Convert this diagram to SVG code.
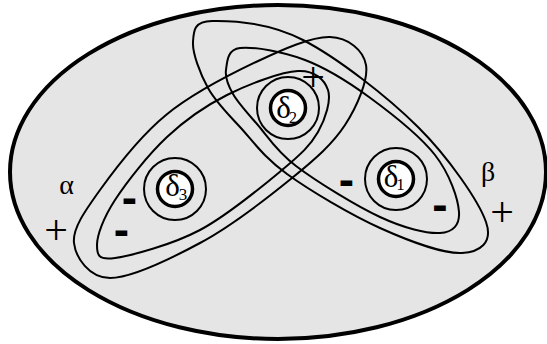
<svg xmlns="http://www.w3.org/2000/svg" width="547" height="344" viewBox="0 0 547 344">
<style>
.loop{fill:none;stroke:#000;stroke-width:2}
.ring{fill:none;stroke:#000;stroke-width:2}
.core{fill:#fff;stroke:#000;stroke-width:3.5}
.serif{font-family:"Liberation Serif","Times New Roman",serif;fill:#000}
.minus{font-family:"Liberation Sans",Arial,sans-serif;font-weight:bold;font-size:46px;text-anchor:middle;fill:#000}
.plus{font-family:"Liberation Serif","Times New Roman",serif;font-size:42px;text-anchor:middle;fill:#000}
</style>
<rect width="547" height="344" fill="#fff"/>
<g id="universe">
<ellipse cx="278" cy="172" rx="268" ry="167" fill="#e5e5e5" stroke="#000" stroke-width="4"/>
</g>
<g id="connectors">
<path id="alpha-outer" class="loop" d="M74,243 C72.33,228.67 84.67,211.33 100,190 C115.33,168.67 140,136.33 166,115 C192,93.67 228.67,75 256,62 C283.33,49 311.67,36.5 330,37 C348.33,37.5 363.5,50.33 366,65 C368.5,79.67 357.33,106.17 345,125 C332.67,143.83 316.17,158.33 292,178 C267.83,197.67 230.33,226.67 200,243 C169.67,259.33 131,278 110,278 C89,278 75.67,257.33 74,243 Z"/>
<path id="alpha-inner" class="loop" d="M97,245 C97,235.33 103.33,218 115,200 C126.67,182 148.33,154.5 167,137 C185.67,119.5 205.17,106 227,95 C248.83,84 281.17,71.83 298,71 C314.83,70.17 324.67,79.83 328,90 C331.33,100.17 325.67,118.67 318,132 C310.33,145.33 301.67,153.67 282,170 C262.33,186.33 227.83,215.33 200,230 C172.17,244.67 132.17,255.5 115,258 C97.83,260.5 97,254.67 97,245 Z"/>
<path id="beta-outer" class="loop" d="M193,42 C193.67,30.83 193.67,21.33 212,21 C230.33,20.67 268.67,22.33 303,40 C337.33,57.67 387.5,96.67 418,127 C448.5,157.33 478.67,201 486,222 C493.33,243 479.67,252 462,253 C444.33,254 409.17,241.17 380,228 C350.83,214.83 310.33,190.83 287,174 C263.67,157.17 253.17,141.33 240,127 C226.83,112.67 215.83,102.17 208,88 C200.17,73.83 192.33,53.17 193,42 Z"/>
<path id="beta-inner" class="loop" d="M226,70 C227.17,62.33 226.83,49.67 240,48 C253.17,46.33 283.5,51.83 305,60 C326.5,68.17 347.33,81.17 369,97 C390.67,112.83 420,135.83 435,155 C450,174.17 458.17,199 459,212 C459.83,225 453.17,232.17 440,233 C426.83,233.83 404,228.17 380,217 C356,205.83 316.5,181.5 296,166 C275.5,150.5 267.5,136 257,124 C246.5,112 238.17,103 233,94 C227.83,85 224.83,77.67 226,70 Z"/>
</g>
<g id="delta1">
<circle class="ring" cx="396" cy="179" r="31"/>
<circle class="core" cx="396" cy="179" r="17.5"/>
<text class="serif"><tspan x="391" y="187" font-size="31" text-anchor="middle">δ</tspan><tspan x="400.5" y="190" font-size="17" text-anchor="middle">1</tspan></text>
</g>
<g id="delta2">
<circle class="ring" cx="288" cy="108" r="31"/>
<circle class="core" cx="288" cy="108" r="17.5"/>
<text class="serif"><tspan x="283.5" y="118" font-size="31" text-anchor="middle">δ</tspan><tspan x="293" y="123" font-size="16" text-anchor="middle">2</tspan></text>
</g>
<g id="delta3">
<circle class="ring" cx="175" cy="189" r="31"/>
<circle class="core" cx="175" cy="189" r="17.5"/>
<text class="serif"><tspan x="172.5" y="196" font-size="31" text-anchor="middle">δ</tspan><tspan x="183" y="200" font-size="17" text-anchor="middle">3</tspan></text>
</g>
<g id="labels">
<text class="serif" x="66.5" y="194" font-size="28" text-anchor="middle">α</text>
<text class="serif" x="488" y="181" font-size="28" text-anchor="middle">β</text>
<text class="plus" x="56" y="244">+</text>
<text class="plus" x="502" y="226">+</text>
<text class="plus" x="313" y="91" font-size="34">+</text>
<text class="minus" x="129.5" y="212.5">-</text>
<text class="minus" x="121.5" y="245">-</text>
<text class="minus" x="346.5" y="194.5">-</text>
<text class="minus" x="440" y="220">-</text>
</g>
</svg>
